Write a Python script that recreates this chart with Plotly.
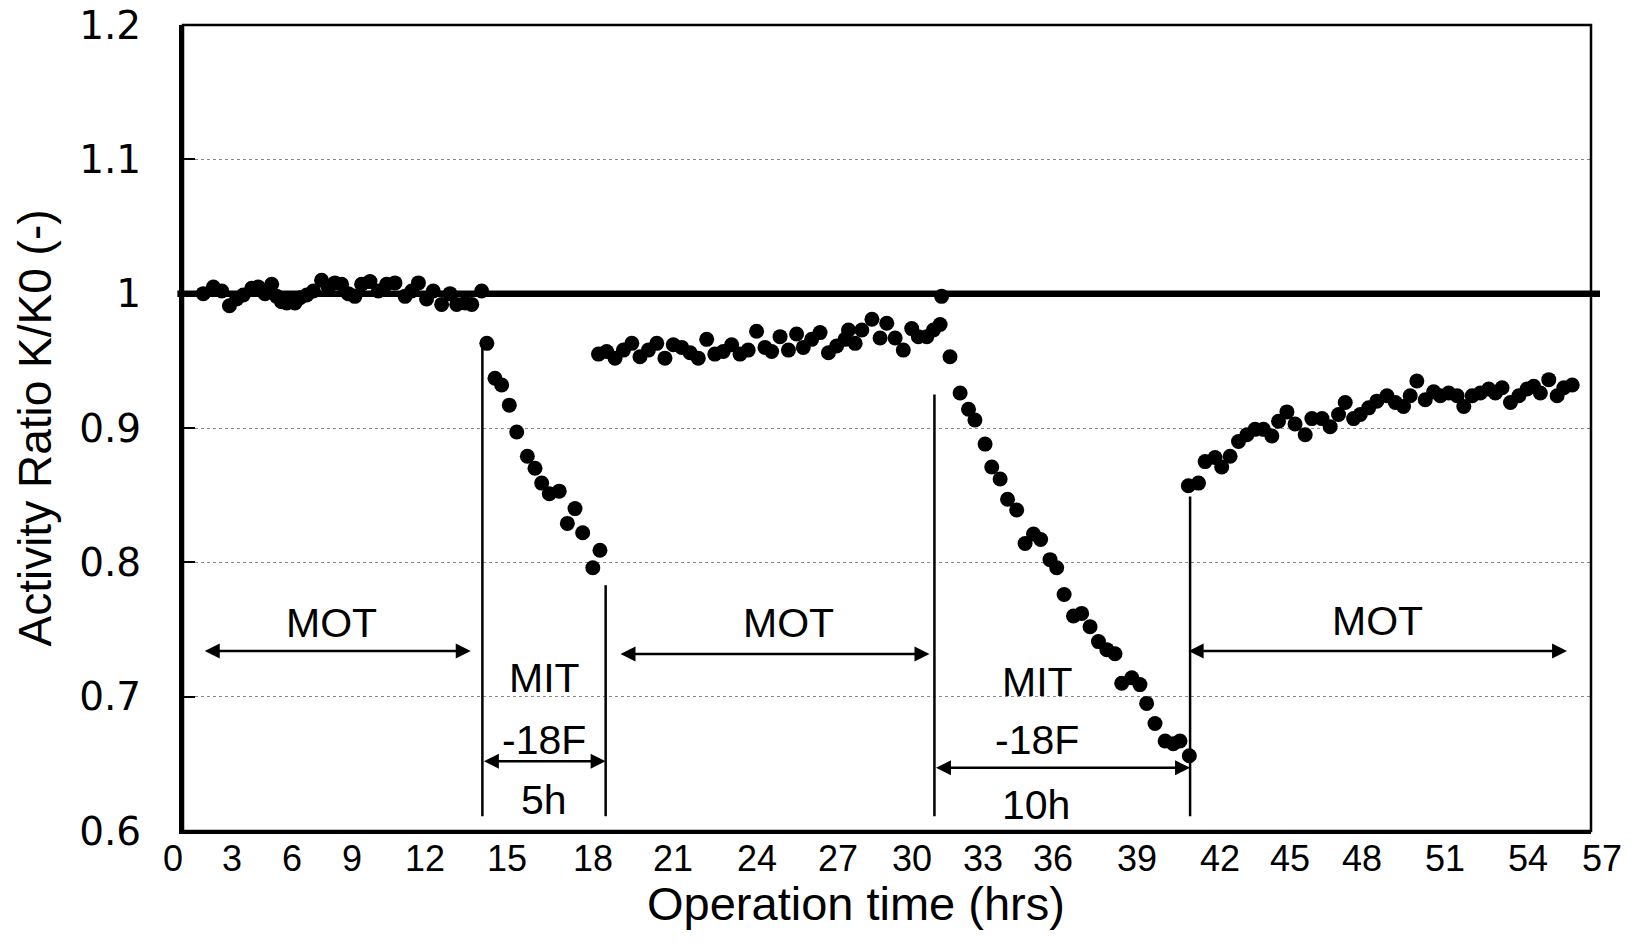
import plotly.graph_objects as go

# ---------------- data ----------------
seg1_x = [0.82, 1.23, 1.57, 1.88, 2.17, 2.44, 2.78, 3.05, 3.32, 3.59, 3.79, 3.99, 4.20, 4.53, 4.74,
          5.01, 5.28, 5.61, 5.88, 6.15, 6.42, 6.69, 6.96, 7.23, 7.57, 7.91, 8.24, 8.58, 8.99, 9.26,
          9.53, 9.86, 10.13, 10.47, 10.81, 11.08, 11.42, 11.69, 12.09]
seg1_y = [1.000, 1.005, 1.002, 0.991, 0.996, 0.999, 1.004, 1.005, 1.000, 1.007, 0.998, 0.994, 0.993,
          0.993, 0.997, 0.999, 1.002, 1.010, 1.005, 1.008, 1.007, 1.000, 0.998, 1.007, 1.009, 1.002,
          1.007, 1.008, 0.998, 1.002, 1.008, 0.996, 1.002, 0.992, 1.000, 0.992, 0.993, 0.992, 1.002]

seg2_x = [12.30, 12.63, 12.90, 13.21, 13.51, 13.94, 14.25, 14.52, 14.83, 15.23, 15.56, 15.87, 16.18,
          16.59, 16.88]
seg2_y = [0.963, 0.937, 0.932, 0.917, 0.897, 0.879, 0.870, 0.859, 0.851, 0.853, 0.829, 0.840, 0.822,
          0.796, 0.809]

seg3_x = [16.82, 17.15, 17.49, 17.83, 18.17, 18.50, 18.84, 19.18, 19.51, 19.85, 20.19, 20.53, 20.86,
          21.20, 21.53, 21.87, 22.21, 22.55, 22.88, 23.22, 23.56, 23.83, 24.17, 24.51, 24.84, 25.11,
          25.45, 25.79, 26.13, 26.46, 26.80, 26.94, 27.21, 27.48, 27.89, 28.22, 28.49, 28.83, 29.16,
          29.50, 29.77, 30.11, 30.38, 30.65, 30.71]
seg3_y = [0.955, 0.957, 0.952, 0.958, 0.963, 0.953, 0.958, 0.963, 0.952, 0.962, 0.960, 0.956, 0.952,
          0.966, 0.955, 0.957, 0.962, 0.955, 0.958, 0.972, 0.960, 0.957, 0.968, 0.958, 0.970, 0.960,
          0.966, 0.971, 0.956, 0.961, 0.966, 0.973, 0.963, 0.973, 0.981, 0.967, 0.978, 0.967, 0.958,
          0.974, 0.968, 0.968, 0.973, 0.977, 0.998]

seg4_x = [31.05, 31.46, 31.80, 32.06, 32.47, 32.74, 33.08, 33.38, 33.75, 34.09, 34.43, 34.72, 35.10,
          35.37, 35.67, 36.05, 36.38, 36.72, 37.06, 37.40, 37.73, 38.00, 38.41, 38.74, 39.01, 39.35,
          39.76, 40.09, 40.36, 40.74]
seg4_y = [0.953, 0.926, 0.914, 0.906, 0.888, 0.871, 0.862, 0.847, 0.839, 0.814, 0.821, 0.817, 0.802,
          0.796, 0.776, 0.760, 0.762, 0.752, 0.741, 0.735, 0.732, 0.710, 0.714, 0.709, 0.695, 0.680,
          0.667, 0.665, 0.667, 0.656]

seg5_x = [40.70, 41.11, 41.38, 41.78, 42.05, 42.39, 42.73, 43.07, 43.40, 43.74, 44.08, 44.35, 44.69,
          45.02, 45.43, 45.70, 46.11, 46.44, 46.78, 47.05, 47.39, 47.66, 48.00, 48.33, 48.74, 49.08,
          49.41, 49.68, 49.95, 50.29, 50.63, 50.90, 51.24, 51.58, 51.85, 52.19, 52.52, 52.86, 53.13,
          53.40, 53.74, 54.08, 54.41, 54.68, 54.95, 55.29, 55.63, 55.90, 56.24]
seg5_y = [0.857, 0.859, 0.875, 0.878, 0.871, 0.879, 0.890, 0.895, 0.899, 0.899, 0.894, 0.905, 0.912,
          0.903, 0.895, 0.907, 0.907, 0.901, 0.910, 0.919, 0.907, 0.910, 0.915, 0.920, 0.924, 0.919,
          0.916, 0.924, 0.935, 0.921, 0.927, 0.924, 0.926, 0.924, 0.916, 0.924, 0.926, 0.929, 0.926,
          0.930, 0.919, 0.924, 0.929, 0.931, 0.926, 0.936, 0.924, 0.930, 0.932]

# x tick labels (placed as in the reference: a text row under the axis, in hour units)
xtick_pos = [-0.40, 1.98, 4.41, 6.84, 9.80, 13.12, 16.60, 19.84, 23.24, 26.52, 29.51, 32.39, 35.22,
             38.62, 41.98, 44.82, 47.73, 51.09, 54.45, 57.45]
xtick_text = ["0", "3", "6", "9", "12", "15", "18", "21", "24", "27", "30", "33", "36", "39", "42",
              "45", "48", "51", "54", "57"]

ref_value = 1.0
x_range = [0, 57]
y_range = [0.6, 1.2]

# phase boundary lines (x, top y)
phase_x = [12.12, 17.11, 30.42, 40.77]
phase_top = [0.962, 0.783, 0.925, 0.849]
phase_bottom = 0.611

# double arrows: (x_start, x_end, y)
mot_arrows = [(0.82, 11.65, 0.734), (17.65, 30.22, 0.7317), (40.65, 56.03, 0.734)]
mit_arrows = [(12.12, 17.11, 0.652), (30.42, 40.77, 0.647)]

# text labels: (x, y, text)
labels = [
    (6.02, 0.755, "MOT"), (24.53, 0.755, "MOT"), (48.36, 0.7565, "MOT"),
    (14.63, 0.714, "MIT"), (14.63, 0.668, "-18F"), (14.63, 0.623, "5h"),
    (34.58, 0.711, "MIT"), (34.58, 0.668, "-18F"), (34.55, 0.619, "10h"),
]

# ---------------- figure ----------------
FONT = "Liberation Sans, Arial, sans-serif"
all_x = seg1_x + seg2_x + seg3_x + seg4_x + seg5_x
all_y = seg1_y + seg2_y + seg3_y + seg4_y + seg5_y

fig = go.Figure()
fig.add_trace(go.Scatter(x=all_x, y=all_y, mode="markers",
                         marker=dict(size=15, color="black", line=dict(width=0)),
                         showlegend=False, hoverinfo="skip"))


def to_paper_x(v):
    return (v - x_range[0]) / (x_range[1] - x_range[0])


def to_paper_y(v):
    return (v - y_range[0]) / (y_range[1] - y_range[0])


shapes = []
# reference line at K/K0 = 1 (slightly overhanging the frame like the original)
shapes.append(dict(type="line", xref="paper", yref="paper", x0=-0.004, x1=1.0064,
                   y0=to_paper_y(ref_value), y1=to_paper_y(ref_value),
                   line=dict(color="black", width=6.5), layer="above"))
# top/right frame
shapes.append(dict(type="rect", xref="paper", yref="paper", x0=0, x1=1, y0=0, y1=1,
                   line=dict(color="black", width=2.5), layer="above"))
for px, pt in zip(phase_x, phase_top):
    shapes.append(dict(type="line", xref="x", yref="y", x0=px, x1=px, y0=phase_bottom, y1=pt,
                       line=dict(color="black", width=2.5), layer="above"))

annotations = []
for (xs, xe, yy) in mot_arrows + mit_arrows:
    annotations.append(dict(x=xe, y=yy, ax=xs, ay=yy, xref="x", yref="y", axref="x", ayref="y",
                            text="", showarrow=True, arrowhead=2, arrowside="end+start",
                            arrowsize=1.2, arrowwidth=2.5, arrowcolor="black",
                            standoff=0, startstandoff=0, font=dict(size=1)))
for (tx, ty, tt) in labels:
    annotations.append(dict(x=tx, y=ty, xref="x", yref="y", text=tt, showarrow=False,
                            xanchor="center", yanchor="middle",
                            font=dict(family=FONT, size=41, color="black")))
for pos, txt in zip(xtick_pos, xtick_text):
    annotations.append(dict(x=to_paper_x(pos), y=0, xref="paper", yref="paper", text=txt,
                            showarrow=False, xanchor="center", yanchor="middle", yshift=-27,
                            font=dict(family=FONT, size=36, color="black")))
annotations.append(dict(x=0.478, y=0, xref="paper", yref="paper", text="Operation time (hrs)",
                        showarrow=False, xanchor="center", yanchor="middle", yshift=-72,
                        font=dict(family=FONT, size=47, color="black")))

fig.update_layout(
    width=1634, height=951,
    margin=dict(l=183, r=43, t=25, b=120, autoexpand=False),
    paper_bgcolor="white", plot_bgcolor="white",
    shapes=shapes, annotations=annotations,
    xaxis=dict(range=x_range, showgrid=False, zeroline=False, showticklabels=False,
               ticks="", showline=True, linecolor="black", linewidth=3, automargin=False),
    yaxis=dict(range=y_range, dtick=0.1, tick0=0.6, showgrid=True, gridcolor="#8a8a8a",
               griddash="dot", gridwidth=1, zeroline=False, automargin=False,
               ticks="inside", ticklen=12, tickwidth=2, tickcolor="black",
               showline=True, linecolor="black", linewidth=4,
               ticklabelstandoff=30,
               tickfont=dict(family="DejaVu Sans, sans-serif", size=39, color="black"),
               title=dict(text="Activity Ratio K/K0 (-)", standoff=14,
                          font=dict(family=FONT, size=46, color="black"))),
)

fig.write_html("out.html")
